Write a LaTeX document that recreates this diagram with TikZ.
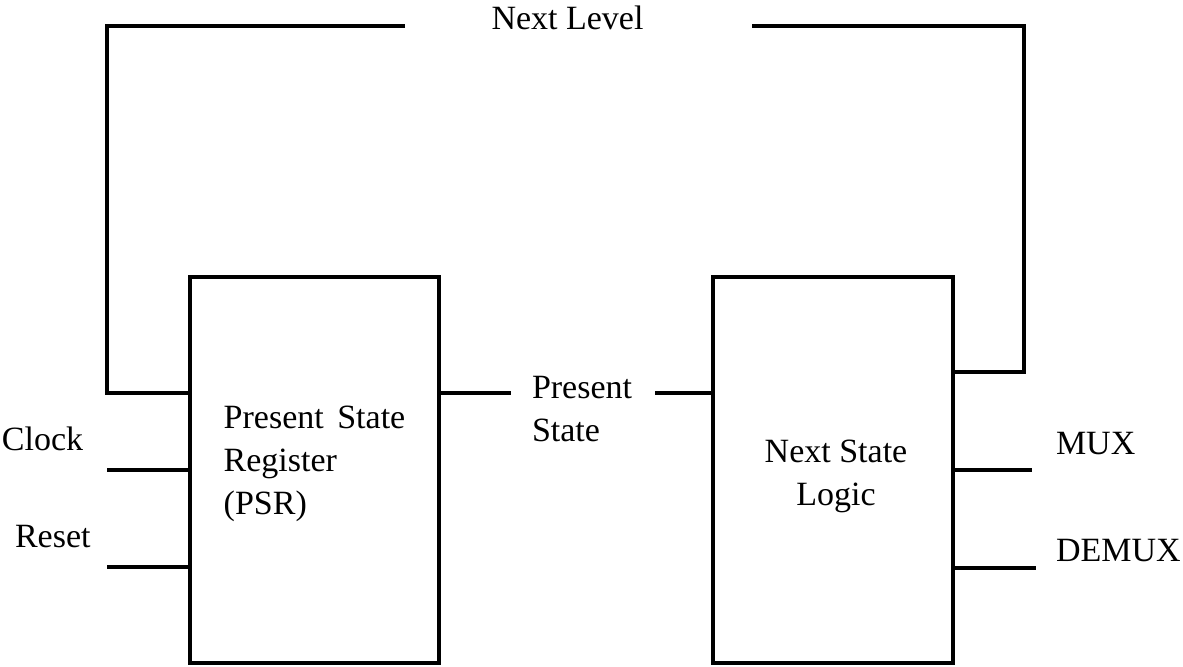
\documentclass[tikz,border=0pt]{standalone}
\usepackage{fontspec}
\setmainfont{Liberation Serif}
\begin{document}
\begin{tikzpicture}[x=0.5pt,y=0.5pt,line width=2pt,
	every node/.style={font=\fontsize{17}{21.5}\selectfont},
	block/.style={draw,minimum height=193pt,inner sep=0pt},
	lbl/.style={inner sep=0pt}]
	\useasboundingbox (0,0) rectangle (1183,667);

	\node[block,minimum width=124.5pt] (psr) at (314.5,197) {};
	\node[block,minimum width=120pt] (nsl) at (833,197) {};
	\node[lbl,align=left] (psrt) at ([yshift=3pt]psr.center) {Present\hspace{2.5pt} State\\Register\\(PSR)};
	\node[lbl,align=center] (nslt) at ([xshift=1.5pt,yshift=-3pt]nsl.center) {Next State\\Logic};

	\node[lbl,anchor=base] (nxl) at (567.5,637) {Next Level};
	\node[lbl,anchor=north west,align=left] (pst) at (530,292.5) {Present\\State};
	\node[lbl,anchor=base west] (clk) at (0,216) {Clock};
	\node[lbl,anchor=base west] (rst) at (13,119) {Reset};
	\node[lbl,anchor=base west] (mux) at (1054,212) {MUX};
	\node[lbl,anchor=base west] (dmx) at (1054,105) {DEMUX};

	\coordinate (nlL) at (405,641);
	\coordinate (fbL) at (107,274);
	\coordinate (nlR) at (752,641);
	\coordinate (fbR) at (1024,295);
	\coordinate (psA) at (511,274);
	\coordinate (psB) at (655,274);
	\coordinate (clkL) at (107,197);
	\coordinate (rstL) at (107,100);
	\coordinate (muxR) at (1032,197);
	\coordinate (dmxR) at (1036,99);

	\draw (nlL) -| (fbL) -- (fbL -| psr.west);
	\draw (nlR) -| (fbR) -- (fbR -| nsl.east);
	\draw (psr.east |- psA) -- (psA);
	\draw (psB) -- (psB -| nsl.west);
	\draw (clkL) -- (clkL -| psr.west);
	\draw (rstL) -- (rstL -| psr.west);
	\draw (nsl.east |- muxR) -- (muxR);
	\draw (nsl.east |- dmxR) -- (dmxR);
\end{tikzpicture}
\end{document}
